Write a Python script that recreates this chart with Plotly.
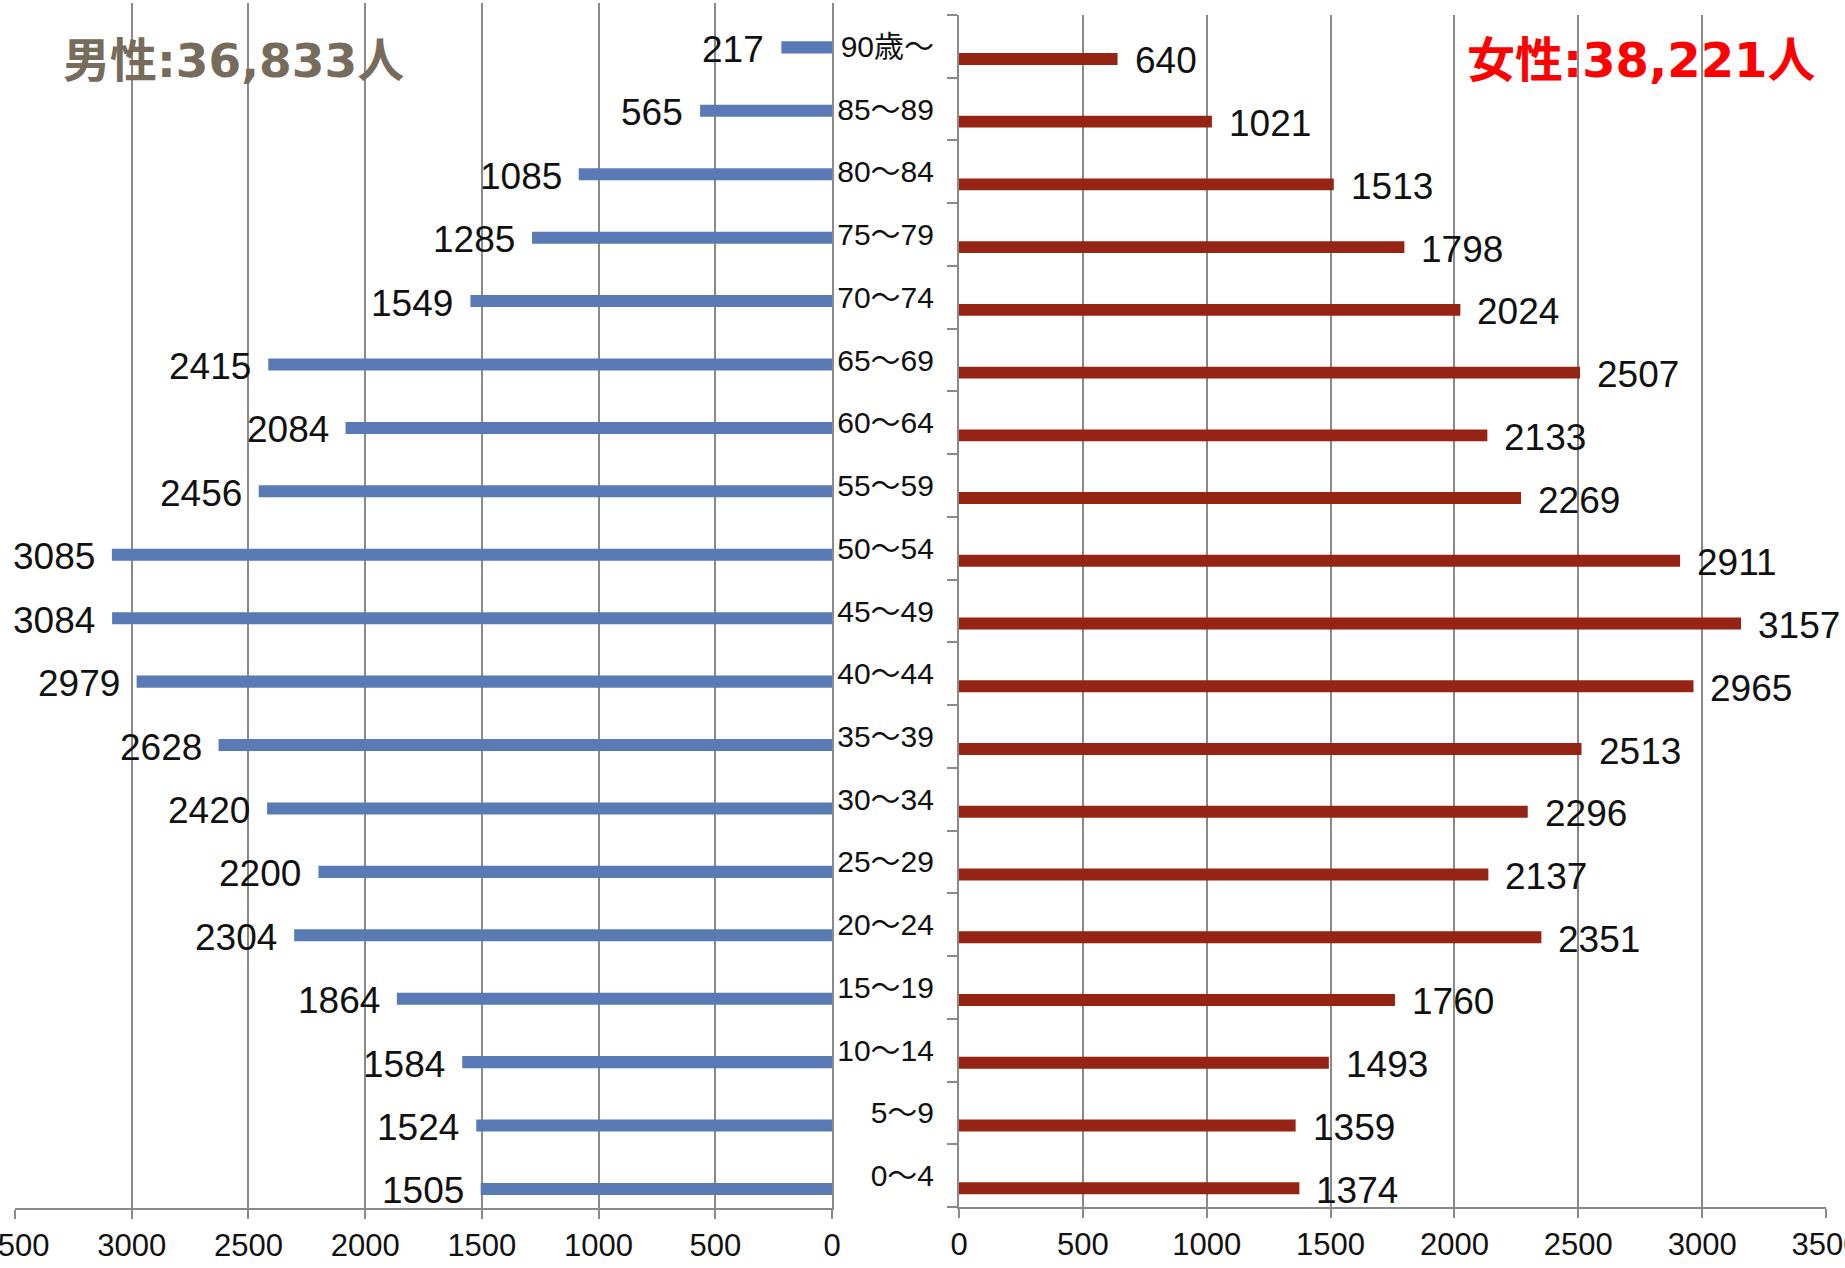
import plotly.graph_objects as go

# ---- data (top to bottom as in the chart) ----
age_groups = ["90歳～", "85～89", "80～84", "75～79", "70～74", "65～69", "60～64",
              "55～59", "50～54", "45～49", "40～44", "35～39", "30～34", "25～29",
              "20～24", "15～19", "10～14", "5～9", "0～4"]
male = [217, 565, 1085, 1285, 1549, 2415, 2084, 2456, 3085, 3084, 2979, 2628,
        2420, 2200, 2304, 1864, 1584, 1524, 1505]
female = [640, 1021, 1513, 1798, 2024, 2507, 2133, 2269, 2911, 3157, 2965, 2513,
          2296, 2137, 2351, 1760, 1493, 1359, 1374]
x_ticks = [0, 500, 1000, 1500, 2000, 2500, 3000, 3500]
male_title = "<b>男性:36,833人</b>"
female_title = "<b>女性:38,221人</b>"

# bottom-to-top order for plotly category axes
cats = age_groups[::-1]
male_b = male[::-1]
female_b = female[::-1]

W, H = 1845, 1268
GRID = "#8A8A8A"
BLUE = "#5A7AB6"
RED = "#962414"
NUM_FONT = "Liberation Sans, Arial, Noto Sans CJK JP, sans-serif"

BAR_W = 0.19
BAR_SHIFT = 0.2  # bars sit below the category centre

fig = go.Figure()
fig.add_trace(go.Bar(
    y=cats, x=male_b, orientation="h", xaxis="x", yaxis="y",
    marker=dict(color=BLUE, line=dict(width=0)),
    width=BAR_W, offset=-BAR_SHIFT - BAR_W / 2, hoverinfo="skip"))
fig.add_trace(go.Bar(
    y=cats, x=female_b, orientation="h", xaxis="x2", yaxis="y2",
    marker=dict(color=RED, line=dict(width=0)),
    width=BAR_W, offset=-BAR_SHIFT - BAR_W / 2, hoverinfo="skip"))

annotations = []
for i, v in enumerate(male_b):
    annotations.append(dict(x=v, y=i - BAR_SHIFT, xref="x", yref="y", text=str(v),
                            showarrow=False, xanchor="right", yanchor="middle",
                            xshift=-15, yshift=-2,
                            font=dict(family=NUM_FONT, size=37, color="#111111")))
for i, v in enumerate(female_b):
    annotations.append(dict(x=v, y=i - BAR_SHIFT, xref="x2", yref="y2", text=str(v),
                            showarrow=False, xanchor="left", yanchor="middle",
                            xshift=15, yshift=-2,
                            font=dict(family=NUM_FONT, size=37, color="#111111")))

TITLE_FONT = "DejaVu Sans, Noto Sans CJK JP, sans-serif"
annotations.append(dict(x=61 / W, y=1 - 60 / H, xref="paper", yref="paper",
                        text=male_title, showarrow=False, xanchor="left", yanchor="middle",
                        font=dict(family=TITLE_FONT, size=47, color="#776B5C")))
annotations.append(dict(x=1817 / W, y=1 - 60 / H, xref="paper", yref="paper",
                        text=female_title, showarrow=False, xanchor="right", yanchor="middle",
                        font=dict(family=TITLE_FONT, size=48, color="#FF0000")))

xaxis_common = dict(
    tickvals=x_ticks, showgrid=True, gridcolor=GRID, gridwidth=2,
    ticks="outside", ticklen=9, tickwidth=2, tickcolor=GRID,
    showline=True, linecolor=GRID, linewidth=2, zeroline=False,
    ticklabeloverflow="allow", automargin=False,
    tickfont=dict(family=NUM_FONT, size=31, color="#111111"),
)

fig.update_layout(
    width=W, height=H,
    margin=dict(l=0, r=0, t=0, b=0, autoexpand=False),
    paper_bgcolor="white", plot_bgcolor="white",
    showlegend=False, barmode="overlay",
    xaxis=dict(domain=[15 / W, 832 / W], anchor="y", range=[3500, 0], **xaxis_common),
    xaxis2=dict(domain=[959 / W, 1826 / W], anchor="y2", range=[0, 3500], **xaxis_common),
    yaxis=dict(domain=[1 - 1208 / H, 1 - 3 / H], anchor="x", type="category",
               categoryorder="array", categoryarray=cats, range=[-0.5, 18.5],
               side="right", showticklabels=False, showgrid=False, ticks="",
               showline=True, linecolor=GRID, linewidth=2, zeroline=False,
               automargin=False),
    yaxis2=dict(domain=[1 - 1207 / H, 1 - 15 / H], anchor="x2", type="category",
                categoryorder="array", categoryarray=cats, range=[-0.5, 18.5],
                showgrid=False, ticks="outside", tickson="boundaries", ticklen=10,
                tickwidth=2, tickcolor=GRID, showline=True, linecolor=GRID, linewidth=2,
                zeroline=False, ticklabelstandoff=17, automargin=False,
                tickfont=dict(family=NUM_FONT, size=30, color="#111111")),
    annotations=annotations,
)

fig.write_html("out.html")
